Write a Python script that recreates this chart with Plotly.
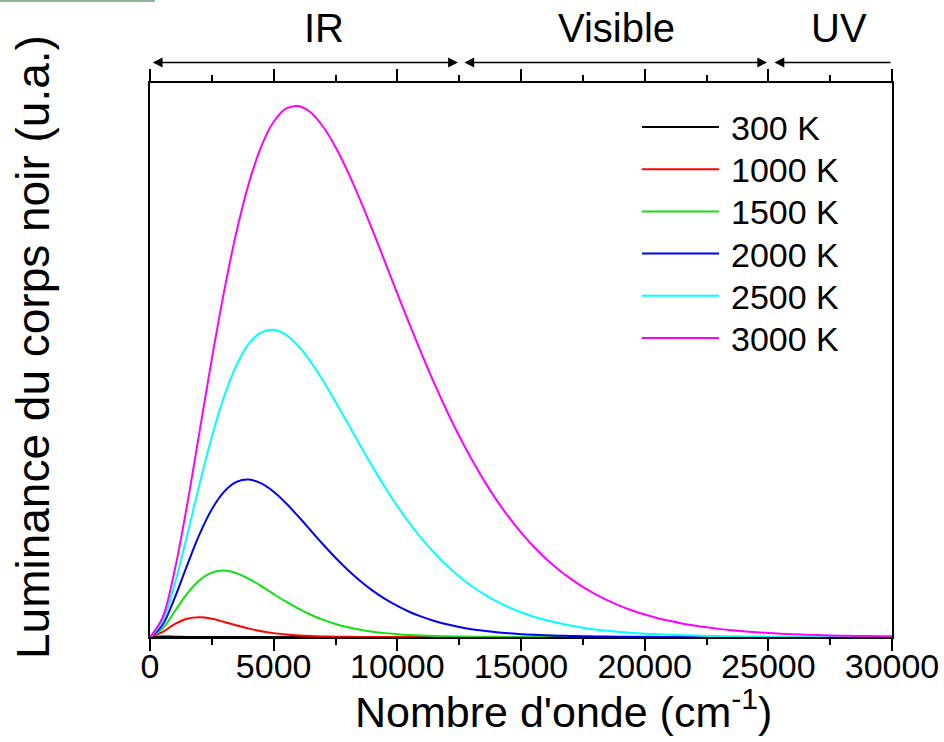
import plotly.graph_objects as go

# ---- data (arbitrary units) ----
# wavenumber in cm-1, one row = 5000 cm-1
wavenumber = [0, 500, 1000, 1500, 2000, 2500, 3000, 3500, 4000, 4500,
              5000, 5500, 6000, 6500, 7000, 7500, 8000, 8500, 9000, 9500,
              10000, 10500, 11000, 11500, 12000, 12500, 13000, 13500, 14000, 14500,
              15000, 15500, 16000, 16500, 17000, 17500, 18000, 18500, 19000, 19500,
              20000, 20500, 21000, 21500, 22000, 22500, 23000, 23500, 24000, 24500,
              25000, 25500, 26000, 26500, 27000, 27500, 28000, 28500, 29000, 29500,
              30000]

lum_300 = [0, 0.097, 0.065, 0.020, 0.004, 0.001, 0, 0, 0, 0,
           0, 0, 0, 0, 0, 0, 0, 0, 0, 0,
           0, 0, 0, 0, 0, 0, 0, 0, 0, 0,
           0, 0, 0, 0, 0, 0, 0, 0, 0, 0,
           0, 0, 0, 0, 0, 0, 0, 0, 0, 0,
           0, 0, 0, 0, 0, 0, 0, 0, 0, 0,
           0]
lum_1000 = [0, 0.92, 2.41, 3.42, 3.70, 3.42, 2.83, 2.18, 1.58, 1.09,
            0.73, 0.47, 0.30, 0.18, 0.11, 0.067, 0.040, 0.023, 0.013, 0.008,
            0.004, 0.002, 0.001, 0, 0, 0, 0, 0, 0, 0,
            0, 0, 0, 0, 0, 0, 0, 0, 0, 0,
            0, 0, 0, 0, 0, 0, 0, 0, 0, 0,
            0, 0, 0, 0, 0, 0, 0, 0, 0, 0,
            0]
lum_1500 = [0, 1.58, 4.82, 8.15, 10.69, 12.13, 12.50, 12.01, 10.95, 9.57,
            8.08, 6.64, 5.33, 4.19, 3.23, 2.46, 1.85, 1.37, 1.01, 0.73,
            0.53, 0.38, 0.27, 0.19, 0.135, 0.094, 0.065, 0.045, 0.031, 0.021,
            0.015, 0.010, 0.007, 0.005, 0.003, 0.002, 0.001, 0, 0, 0,
            0, 0, 0, 0, 0, 0, 0, 0, 0, 0,
            0, 0, 0, 0, 0, 0, 0, 0, 0, 0,
            0]
lum_2000 = [0, 2.24, 7.37, 13.49, 19.31, 24.06, 27.38, 29.19, 29.63, 28.91,
            27.34, 25.18, 22.68, 20.05, 17.42, 14.93, 12.62, 10.56, 8.74, 7.17,
            5.84, 4.71, 3.78, 3.01, 2.39, 1.89, 1.48, 1.16, 0.90, 0.70,
            0.54, 0.42, 0.32, 0.24, 0.19, 0.14, 0.11, 0.082, 0.062, 0.047,
            0.035, 0.026, 0.020, 0.015, 0.011, 0.008, 0.006, 0.004, 0.003, 0.002,
            0.002, 0.001, 0.001, 0.001, 0, 0, 0, 0, 0, 0,
            0]
lum_2500 = [0, 2.91, 9.97, 19.10, 28.72, 37.71, 45.34, 51.22, 55.22, 57.36,
            57.84, 56.89, 54.78, 51.81, 48.24, 44.29, 40.18, 36.05, 32.03, 28.21,
            24.65, 21.38, 18.43, 15.78, 13.45, 11.39, 9.60, 8.07, 6.75, 5.62,
            4.67, 3.86, 3.19, 2.62, 2.15, 1.76, 1.43, 1.17, 0.95, 0.77,
            0.62, 0.50, 0.41, 0.33, 0.26, 0.21, 0.17, 0.13, 0.11, 0.086,
            0.068, 0.054, 0.043, 0.034, 0.027, 0.021, 0.017, 0.013, 0.011, 0.008,
            0.007]
lum_3000 = [0, 3.58, 12.61, 24.87, 38.57, 52.34, 65.16, 76.35, 85.49, 92.38,
            97.00, 99.46, 99.96, 98.73, 96.06, 92.26, 87.56, 82.25, 76.54, 70.62,
            64.66, 58.79, 53.11, 47.69, 42.60, 37.85, 33.49, 29.49, 25.87, 22.61,
            19.69, 17.09, 14.79, 12.75, 10.98, 9.42, 8.07, 6.89, 5.87, 4.99,
            4.24, 3.59, 3.04, 2.56, 2.16, 1.82, 1.53, 1.28, 1.08, 0.90,
            0.75, 0.63, 0.52, 0.44, 0.36, 0.30, 0.25, 0.21, 0.17, 0.14,
            0.12]

series_names = ["300 K", "1000 K", "1500 K", "2000 K", "2500 K", "3000 K"]
series_values = [lum_300, lum_1000, lum_1500, lum_2000, lum_2500, lum_3000]
series_colors = ["#000000", "#ff0000", "#11e011", "#0000ee", "#00ffff", "#ff00ff"]

x_ticks = [0, 5000, 10000, 15000, 20000, 25000, 30000]
x_tick_labels = ["0", "5000", "10000", "15000", "20000", "25000", "30000"]

regions = ["IR", "Visible", "UV"]
region_centers = [7050, 18850, 27870]
region_spans = [(50, 12450, "end+start"), (12650, 24950, "end+start"), (30000, 25250, "end")]

# ---- layout geometry (pixels) ----
FW, FH = 944, 742
PL, PR, PT, PB = 150, 892, 83, 637
PW, PH = PR - PL, PB - PT


def px(xp):
    return (xp - PL) / PW


def py(yp):
    return (PB - yp) / PH


FONT = "Liberation Sans, Arial, sans-serif"

fig = go.Figure()
for name, vals, col in zip(series_names, series_values, series_colors):
    fig.add_trace(go.Scatter(x=wavenumber, y=vals, mode="lines", name=name,
                             line=dict(color=col, width=2, shape="spline", smoothing=1.0),
                             showlegend=False))

shapes = []
annotations = []

# manual legend
for i, (name, col) in enumerate(zip(series_names, series_colors)):
    yc = 127 + 42.2 * i
    shapes.append(dict(type="line", xref="paper", yref="paper",
                       x0=px(642), x1=px(719), y0=py(yc), y1=py(yc),
                       line=dict(color=col, width=2)))
    annotations.append(dict(text=name, xref="paper", yref="paper", x=px(729), y=py(yc + 1),
                            xanchor="left", yanchor="middle", showarrow=False,
                            font=dict(family=FONT, size=34, color="black")))

# region arrows and labels above the plot
for (tail, head, side) in region_spans:
    annotations.append(dict(text="", x=head, y=py(62.5), xref="x", yref="paper",
                            ax=tail, ay=0, axref="x", ayref="pixel",
                            showarrow=True, arrowhead=2, arrowside=side,
                            arrowsize=1.4, arrowwidth=1.4, arrowcolor="black",
                            standoff=0, startstandoff=0))
for lab, cx in zip(regions, region_centers):
    annotations.append(dict(text=lab, x=cx, y=py(28), xref="x", yref="paper",
                            showarrow=False, xanchor="center", yanchor="middle",
                            font=dict(family=FONT, size=40, color="black")))

# axis titles
annotations.append(dict(text="Nombre d'onde (cm<sup>-1</sup>)", xref="paper", yref="paper",
                        x=px(563), y=py(709), xanchor="center", yanchor="middle",
                        showarrow=False, font=dict(family=FONT, size=43, color="black")))
annotations.append(dict(text="Luminance du corps noir (u.a.)", xref="paper", yref="paper",
                        x=px(33), y=py(347), xanchor="center", yanchor="middle", textangle=-90,
                        showarrow=False, font=dict(family=FONT, size=46, color="black")))

# small greenish strip at the very top-left of the reference image
shapes.append(dict(type="rect", xref="paper", yref="paper", x0=px(0), x1=px(155),
                   y0=py(2), y1=py(0), line=dict(width=0), fillcolor="rgb(143,182,154)"))

fig.update_layout(
    width=FW, height=FH,
    margin=dict(l=PL, r=FW - PR, t=PT, b=FH - PB, pad=0, autoexpand=False),
    paper_bgcolor="white", plot_bgcolor="white",
    showlegend=False,
    shapes=shapes, annotations=annotations,
    font=dict(family=FONT, color="black"),
    xaxis=dict(range=[0, 30000], tickvals=x_ticks, ticktext=x_tick_labels,
               ticks="outside", ticklen=12, tickwidth=2, tickcolor="black",
               ticklabelstandoff=-14,
               showline=True, linewidth=2, linecolor="black", mirror="allticks",
               showgrid=False, zeroline=False, automargin=False,
               tickfont=dict(family=FONT, size=34, color="black"),
               minor=dict(dtick=2500, tick0=0, ticks="outside", ticklen=6, tickwidth=2,
                          tickcolor="black", showgrid=False)),
    yaxis=dict(range=[0, 104.3], showticklabels=False, ticks="",
               showline=True, linewidth=2, linecolor="black", mirror=True,
               showgrid=False, zeroline=False, automargin=False),
)

fig.write_html("out.html")
